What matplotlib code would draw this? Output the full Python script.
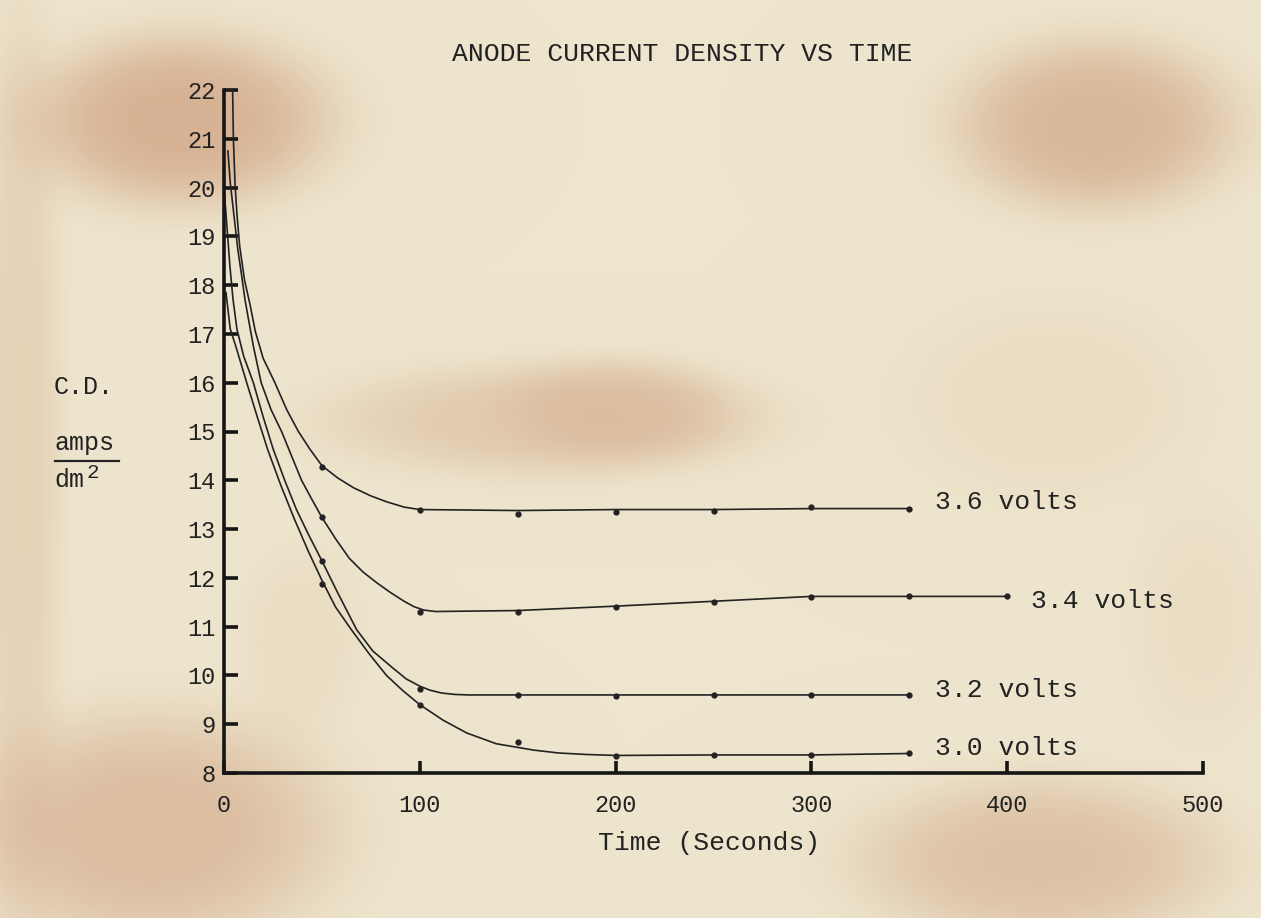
import matplotlib
matplotlib.use('Agg')
import matplotlib.pyplot as plt
import numpy as np
from matplotlib.lines import Line2D

# hand drawn curves (time in s, current density in amps/dm2)
curve36_t = [0, 4.4, 4.8, 5.6, 6.6, 8, 10.5, 13.3, 16, 20, 26, 32, 38, 44, 50, 58, 66, 75, 83, 92,
             100, 150, 200, 250, 300, 350]
curve36_cd = [22.0, 22.0, 21.0, 20.1, 19.46, 18.8, 18.1, 17.6, 17.05, 16.5, 16.0, 15.45, 15.0, 14.63,
              14.3, 14.05, 13.85, 13.68, 13.56, 13.45, 13.4, 13.38, 13.4, 13.4, 13.42, 13.42]

curve34_t = [2, 3.2, 5, 7, 9, 10.7, 12.5, 15, 19, 24, 29.4, 34.5, 39.6, 45, 50, 57, 64, 71, 78, 85,
             92, 97, 102, 108, 150, 200, 250, 300, 350, 400]
curve34_cd = [20.75, 20.1, 19.46, 18.75, 18.2, 17.71, 17.3, 16.75, 16.0, 15.45, 15.0, 14.5, 14.0,
              13.6, 13.24, 12.8, 12.4, 12.12, 11.9, 11.7, 11.52, 11.41, 11.34, 11.31, 11.33, 11.42,
              11.52, 11.62, 11.62, 11.62]

curve32_t = [0, 1.5, 3, 4.6, 6.6, 10, 15, 20, 25.2, 31, 37, 43, 50, 58, 67.7, 76, 86, 93, 100, 105,
             111, 118, 125, 150, 200, 250, 300, 350]
curve32_cd = [20.0, 19.2, 18.4, 17.71, 17.1, 16.55, 16.0, 15.3, 14.63, 14.0, 13.4, 12.9, 12.35, 11.7,
              10.94, 10.5, 10.16, 9.93, 9.78, 9.7, 9.64, 9.61, 9.6, 9.6, 9.6, 9.6, 9.6, 9.6]

curve30_t = [1, 3.2, 6, 11.6, 17, 22.3, 29, 36, 43, 50, 57, 65, 74, 83, 91, 100, 112, 124, 139, 158,
             171, 185, 200, 250, 300, 350]
curve30_cd = [17.85, 17.1, 16.75, 16.0, 15.3, 14.63, 13.9, 13.2, 12.55, 11.95, 11.4, 10.94, 10.45,
              10.0, 9.7, 9.4, 9.08, 8.82, 8.6, 8.47, 8.41, 8.38, 8.36, 8.37, 8.37, 8.4]

# measured readings
pts_t = [50, 100, 150, 200, 250, 300, 350]
pts34_t = [50, 100, 150, 200, 250, 300, 350, 400]
pts36 = [14.28, 13.4, 13.3, 13.36, 13.38, 13.46, 13.42]
pts34 = [13.24, 11.29, 11.3, 11.4, 11.5, 11.6, 11.62, 11.62]
pts32 = [12.35, 9.72, 9.6, 9.58, 9.6, 9.6, 9.6]
pts30 = [11.88, 9.4, 8.64, 8.35, 8.37, 8.37, 8.4]

labels = ['3.6 volts', '3.4 volts', '3.2 volts', '3.0 volts']
x_ticks = [0, 100, 200, 300, 400, 500]
y_ticks = list(range(8, 23))

W, H = 1261, 918
paper = np.array([237, 229, 205]) / 255.
stain = np.array([210, 166, 134]) / 255.
ink = '#222222'
font = 'Liberation Mono'

fig = plt.figure(figsize=(W / 100, H / 100), dpi=100)

# aged paper with brown stains
yy, xx = np.mgrid[0:H, 0:W]
blobs = [(180, 120, 150, 85, 0.8), (1095, 125, 140, 85, 0.72), (545, 420, 215, 55, 0.42),
         (620, 410, 110, 50, 0.38), (150, 830, 185, 115, 0.62), (1040, 860, 180, 80, 0.55),
         (20, 450, 40, 450, 0.3), (1050, 400, 150, 100, 0.14), (300, 640, 60, 90, 0.14),
         (1200, 620, 70, 120, 0.12)]
keep = np.ones((H, W))
for cx, cy, sx, sy, s in blobs:
    r2 = ((xx - cx) / sx) ** 2 + ((yy - cy) / sy) ** 2
    keep *= 1 - s * np.exp(-r2 ** 1.8)
w = (1 - keep)[..., None]
bg = paper * (1 - w) + stain * w
ax_bg = fig.add_axes([0, 0, 1, 1], zorder=-1)
ax_bg.imshow(bg, aspect='auto', interpolation='bilinear')
ax_bg.axis('off')

ax = fig.add_axes([224 / W, 1 - 773 / H, 979 / W, 683 / H])
ax.patch.set_alpha(0)

for ct, cv in [(curve36_t, curve36_cd), (curve34_t, curve34_cd),
               (curve32_t, curve32_cd), (curve30_t, curve30_cd)]:
    ax.plot(ct, cv, color=ink, lw=1.2, clip_on=False)

for pt, pv in [(pts_t, pts36), (pts34_t, pts34), (pts_t, pts32), (pts_t, pts30)]:
    ax.plot(pt, pv, 'o', color=ink, ms=3.5, clip_on=False)

label_pos = [(363, 13.55), (412, 11.53), (363, 9.7), (363, 8.51)]
for lab, (lx, ly) in zip(labels, label_pos):
    ax.text(lx, ly, lab, fontsize=19, family=font, color=ink, va='center', ha='left')

ax.set_xlim(0, 500)
ax.set_ylim(8, 22)
ax.set_xticks(x_ticks)
ax.set_yticks(y_ticks)
for s in ['top', 'right']:
    ax.spines[s].set_visible(False)
for s in ['left', 'bottom']:
    ax.spines[s].set_linewidth(2.6)
    ax.spines[s].set_color('#151515')
ax.tick_params(axis='y', direction='in', length=10, width=2.6, pad=6, color='#151515')
ax.tick_params(axis='x', direction='in', length=9, width=2.6, pad=15, color='#151515')
for t in ax.get_xticklabels() + ax.get_yticklabels():
    t.set_fontfamily(font)
    t.set_fontsize(17)
    t.set_color(ink)

fig.text(682 / W, 1 - 54 / H, 'ANODE CURRENT DENSITY VS TIME', fontsize=19, family=font,
         color=ink, ha='center', va='center')
fig.text(709 / W, 1 - 843 / H, 'Time (Seconds)', fontsize=19, family=font,
         color=ink, ha='center', va='center')
fig.text(54 / W, 1 - 387 / H, 'C.D.', fontsize=18, family=font, color=ink, ha='left', va='center')
fig.text(54 / W, 1 - 450 / H, 'amps', fontsize=18, family=font, color=ink, ha='left', va='baseline')
fig.text(54 / W, 1 - 487 / H, 'dm', fontsize=18, family=font, color=ink, ha='left', va='baseline')
fig.text(87 / W, 1 - 478 / H, '2', fontsize=15, family=font, color=ink, ha='left', va='baseline')
fig.add_artist(Line2D([55 / W, 119 / W], [1 - 461 / H, 1 - 461 / H], color=ink, lw=1.6))

plt.savefig('out.png', dpi=100)
